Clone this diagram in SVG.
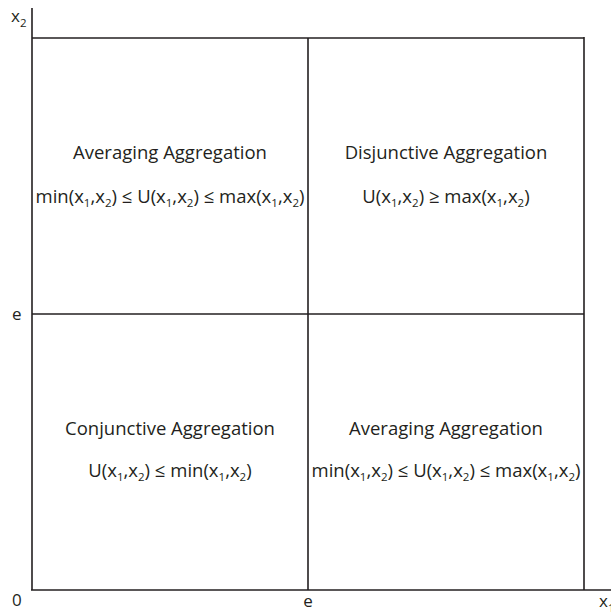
<svg xmlns="http://www.w3.org/2000/svg" width="611" height="615" viewBox="0 0 611 615">
<style>
.ln{stroke:#231f20;stroke-width:1.6;fill:none}
text{font-family:"Open Sans","Liberation Sans",sans-serif;fill:#231f20;font-size:18.5px}
.t{text-anchor:middle}
.s{font-size:11.5px}
.ax{font-size:17px}
</style>
<rect width="611" height="615" fill="#fff"/>
<g id="connectors">
<line class="ln" x1="32" y1="8" x2="32" y2="590"/>
<line class="ln" x1="31" y1="590" x2="611" y2="590"/>
<line class="ln" x1="32" y1="38" x2="584" y2="38"/>
<line class="ln" x1="32" y1="314" x2="584" y2="314"/>
<line class="ln" x1="308" y1="38" x2="308" y2="590"/>
<line class="ln" x1="584" y1="37" x2="584" y2="590"/>
</g>
<g id="axis-labels">
<text class="ax" x="11" y="22">x<tspan class="s" dy="5">2</tspan></text>
<text class="ax" x="12" y="320">e</text>
<text class="ax" x="12" y="606">0</text>
<text class="ax t" x="308" y="607">e</text>
<text class="ax" x="599" y="607">x<tspan class="s" dy="5">1</tspan></text>
</g>
<g id="q-top-left">
<text x="170" y="159" class="t">Averaging Aggregation</text>
<text x="170" y="203" class="t">min(x<tspan class="s" dy="4">1</tspan><tspan dy="-4">,x</tspan><tspan class="s" dy="4">2</tspan><tspan dy="-4">) ≤ U(x</tspan><tspan class="s" dy="4">1</tspan><tspan dy="-4">,x</tspan><tspan class="s" dy="4">2</tspan><tspan dy="-4">) ≤ max(x</tspan><tspan class="s" dy="4">1</tspan><tspan dy="-4">,x</tspan><tspan class="s" dy="4">2</tspan><tspan dy="-4">)</tspan></text>
</g>
<g id="q-top-right">
<text x="446" y="159" class="t">Disjunctive Aggregation</text>
<text x="446" y="203" class="t">U(x<tspan class="s" dy="4">1</tspan><tspan dy="-4">,x</tspan><tspan class="s" dy="4">2</tspan><tspan dy="-4">) ≥ max(x</tspan><tspan class="s" dy="4">1</tspan><tspan dy="-4">,x</tspan><tspan class="s" dy="4">2</tspan><tspan dy="-4">)</tspan></text>
</g>
<g id="q-bottom-left">
<text x="170" y="435" class="t">Conjunctive Aggregation</text>
<text x="170" y="477" class="t">U(x<tspan class="s" dy="4">1</tspan><tspan dy="-4">,x</tspan><tspan class="s" dy="4">2</tspan><tspan dy="-4">) ≤ min(x</tspan><tspan class="s" dy="4">1</tspan><tspan dy="-4">,x</tspan><tspan class="s" dy="4">2</tspan><tspan dy="-4">)</tspan></text>
</g>
<g id="q-bottom-right">
<text x="446" y="435" class="t">Averaging Aggregation</text>
<text x="446" y="477" class="t">min(x<tspan class="s" dy="4">1</tspan><tspan dy="-4">,x</tspan><tspan class="s" dy="4">2</tspan><tspan dy="-4">) ≤ U(x</tspan><tspan class="s" dy="4">1</tspan><tspan dy="-4">,x</tspan><tspan class="s" dy="4">2</tspan><tspan dy="-4">) ≤ max(x</tspan><tspan class="s" dy="4">1</tspan><tspan dy="-4">,x</tspan><tspan class="s" dy="4">2</tspan><tspan dy="-4">)</tspan></text>
</g>
</svg>
